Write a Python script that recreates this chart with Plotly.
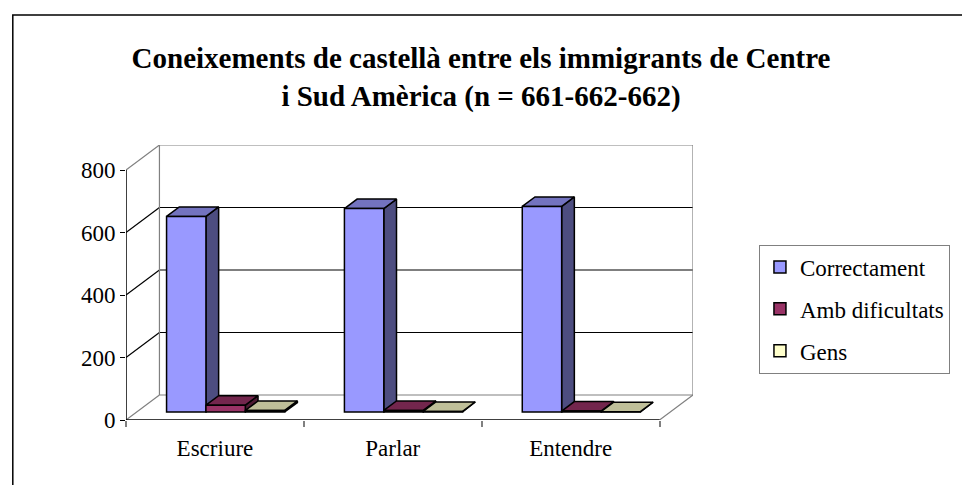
import plotly.graph_objects as go

# ---- data ----
categories = ["Escriure", "Parlar", "Entendre"]
series_names = ["Correctament", "Amb dificultats", "Gens"]
correctament = [626, 651, 658]
amb_dificultats = [22, 5, 3]
gens = [5, 2, 1]
y_ticks = [0, 200, 400, 600, 800]
title_text = "Coneixements de castellà entre els immigrants de Centre<br>i Sud Amèrica (n = 661-662-662)"

values = [correctament, amb_dificultats, gens]
front_colors = ["#9999FF", "#993366", "#FFFFCC"]
top_colors = ["#7373BF", "#73264D", "#BFBF99"]
side_colors = ["#4D4D80", "#4D1A33", "#808066"]

FONT = "Liberation Serif"

# ---- 3D geometry (in axis units) ----
n = len(categories)
DX = 0.188          # wall depth in x units
DY = 80.0           # wall depth in y units
YMAX = y_ticks[-1]
F0 = 0.32           # fraction of depth where bar fronts sit
BD = 0.38           # bar depth fraction
W = 0.2214          # bar width
bx0, by0 = F0 * DX, F0 * DY
bdx, bdy = BD * DX, BD * DY

fig = go.Figure()

# side/top faces (drawn beneath front faces)
for s, vals in enumerate(values):
    tx, ty, sx, sy = [], [], [], []
    for i, v in enumerate(vals):
        L = i + 0.5 - 1.5 * W + s * W + bx0
        R = L + W
        B = by0
        T = by0 + v
        tx += [L, R, R + bdx, L + bdx, L, None]
        ty += [T, T, T + bdy, T + bdy, T, None]
        sx += [R, R + bdx, R + bdx, R, R, None]
        sy += [B, B + bdy, T + bdy, T, B, None]
    fig.add_trace(go.Scatter(x=sx, y=sy, mode="lines", fill="toself",
                             fillcolor=side_colors[s], line=dict(color="black", width=1.5),
                             showlegend=False, hoverinfo="skip"))
    fig.add_trace(go.Scatter(x=tx, y=ty, mode="lines", fill="toself",
                             fillcolor=top_colors[s], line=dict(color="black", width=1.5),
                             showlegend=False, hoverinfo="skip"))

# front faces as bars on overlaid axes (drawn on top)
for s, vals in enumerate(values):
    xs = [i + 0.5 + (s - 1) * W + bx0 for i in range(n)]
    fig.add_trace(go.Bar(x=xs, y=vals, base=by0, width=W, name=series_names[s],
                         xaxis="x2", yaxis="y2", legendgroup=series_names[s],
                         marker=dict(color=front_colors[s], line=dict(color="black", width=1.5))))

# ---- walls, grid, axes as shapes ----
shapes = []
GRAY = "#808080"
def line(x0, y0, x1, y1, color, width=1.2):
    shapes.append(dict(type="line", xref="x", yref="y", x0=x0, y0=y0, x1=x1, y1=y1,
                       line=dict(color=color, width=width), layer="below"))

for v in y_ticks:
    c = "black" if 0 < v < YMAX else GRAY
    line(0, v, DX, v + DY, c)
    line(DX, v + DY, n + DX, v + DY, c)
line(DX, DY, DX, YMAX + DY, GRAY)
line(n + DX, DY, n + DX, YMAX + DY, GRAY)
line(n, 0, n + DX, DY, GRAY)
line(0, 0, 0, YMAX, "black", 1.5)
line(0, 0, n, 0, "black", 1.5)

# outer frame
L_M, R_M, T_M, B_M = 126, 260, 145, 65
PW, PH = 962 - L_M - R_M, 485 - T_M - B_M
def px2paper_x(px):
    return (px - L_M) / PW
def px2paper_y(py):
    return (485 - B_M - py) / PH
shapes.append(dict(type="rect", xref="paper", yref="paper",
                   x0=px2paper_x(11), x1=px2paper_x(1000),
                   y0=px2paper_y(520), y1=px2paper_y(15),
                   line=dict(color="black", width=1.5), layer="below"))

xr = [0, n + DX]
yr = [0, YMAX + DY]

fig.update_layout(
    width=962, height=485,
    margin=dict(l=L_M, r=R_M, t=T_M, b=B_M),
    paper_bgcolor="white", plot_bgcolor="white",
    barmode="overlay",
    font=dict(family=FONT, size=23, color="black"),
    title=dict(text=title_text, x=0.5, xref="container", xanchor="center",
               y=1 - 68 / 485, yref="container", yanchor="middle",
               font=dict(family=FONT, size=29, color="black", weight="bold")),
    xaxis=dict(range=xr, showgrid=False, zeroline=False, showline=False,
               tickvals=[i + 0.5 for i in range(n)], ticktext=categories,
               ticks="outside", ticklen=7, tickcolor="rgba(0,0,0,0)",
               minor=dict(tickvals=list(range(n + 1)), ticks="outside", ticklen=6,
                          tickcolor=GRAY, tickwidth=1.5, showgrid=False),
               fixedrange=True),
    yaxis=dict(range=yr, showgrid=False, zeroline=False, showline=False,
               tickvals=y_ticks, ticks="outside", ticklen=5, tickcolor="black",
               tickwidth=1.2, fixedrange=True),
    xaxis2=dict(range=xr, overlaying="x", visible=False, fixedrange=True),
    yaxis2=dict(range=yr, overlaying="y", visible=False, fixedrange=True),
    legend=dict(x=px2paper_x(769), xanchor="left", y=px2paper_y(309), yanchor="middle",
                bordercolor=GRAY, borderwidth=1, bgcolor="white",
                tracegroupgap=9, font=dict(family=FONT, size=23)),
    shapes=shapes,
)

fig.write_html("out.html", config={"displayModeBar": False},
               post_script="document.body.style.margin='0';document.body.style.padding='0';")
